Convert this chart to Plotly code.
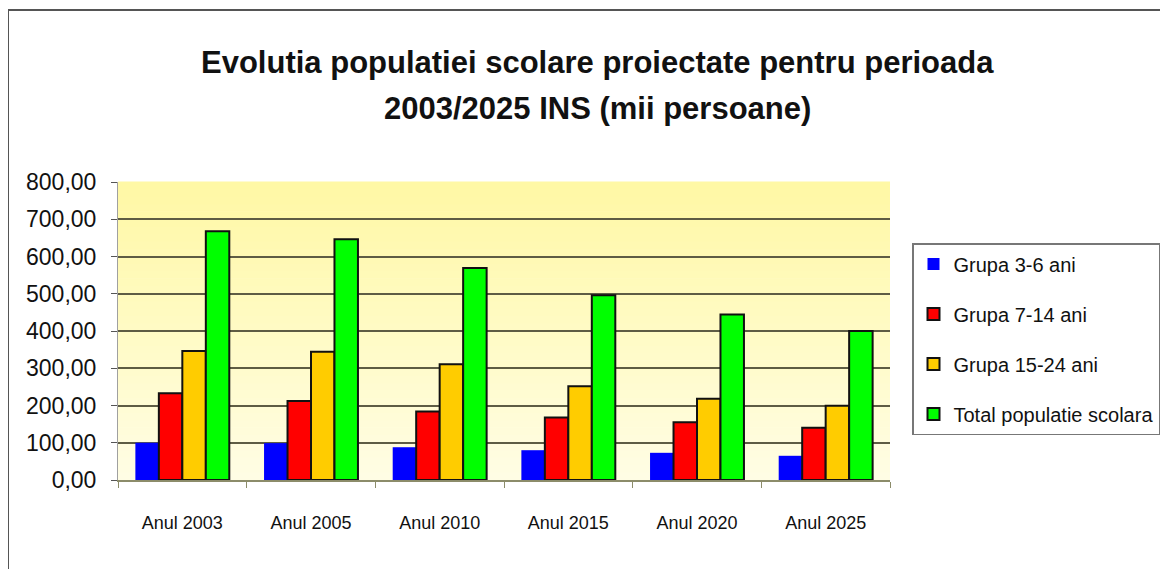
import plotly.graph_objects as go

# data (mii persoane)
categories = ["Anul 2003", "Anul 2005", "Anul 2010", "Anul 2015", "Anul 2020", "Anul 2025"]
series_names = ["Grupa 3-6 ani", "Grupa 7-14 ani", "Grupa 15-24 ani", "Total populatie scolara"]
grupa_3_6 = [100, 99, 88, 80, 73, 65]
grupa_7_14 = [233, 212, 184, 168, 155, 140]
grupa_15_24 = [346, 344, 311, 252, 218, 199]
total_pop = [668, 646, 569, 496, 444, 400]
y_ticks = [0, 100, 200, 300, 400, 500, 600, 700, 800]

title_lines = ["Evolutia populatiei scolare proiectate pentru perioada",
               "2003/2025 INS (mii persoane)"]

colours = ["#0000FF", "#FF0000", "#FFCC00", "#00FF00"]
outline = [0, 2, 2, 2]
FONT = "Liberation Sans, Arial, sans-serif"

# the page body adds an 8px margin, so work in figure pixels = screen - 8
OFF = 8
W, H = 1168 - OFF, 569 - OFF
L, T = 118 - OFF, 182 - OFF
R = W - (890 - OFF)
B = H - (480 - OFF)


def px_to_paper_x(px):
    # px is a screen pixel of the reference
    return (px - OFF - L) / (W - L - R)


def px_to_paper_y(py):
    return (H - B - (py - OFF)) / (H - T - B)


fig = go.Figure()
for name, vals, col, lw in zip(series_names,
                               [grupa_3_6, grupa_7_14, grupa_15_24, total_pop],
                               colours, outline):
    fig.add_trace(go.Bar(
        x=categories, y=vals, name=name, legendgroup=name,
        marker=dict(color=col, line=dict(color="#111111", width=lw)),
        hoverinfo="x+y+name"
    ))

# yellow gradient behind the plot area
shapes = []
n_bands = 40
top_rgb = (255, 248, 165)
bot_rgb = (255, 253, 228)
for i in range(n_bands):
    f = i / (n_bands - 1)
    rgb = [round(bot_rgb[k] + (top_rgb[k] - bot_rgb[k]) * f) for k in range(3)]
    shapes.append(dict(
        type="rect", xref="x domain", yref="y domain",
        x0=0, x1=1, y0=i / n_bands, y1=(i + 1) / n_bands + 0.002,
        fillcolor="rgb(%d,%d,%d)" % tuple(rgb), line=dict(width=0), layer="below"
    ))

# outer chart frame (runs off the right and bottom edges)
shapes.append(dict(
    type="rect", xref="paper", yref="paper",
    x0=px_to_paper_x(8), x1=px_to_paper_x(1190),
    y0=px_to_paper_y(600), y1=px_to_paper_y(10),
    line=dict(color="#555555", width=2), fillcolor="rgba(0,0,0,0)", layer="above"
))

annotations = []
for text, py in zip(title_lines, [63, 108]):
    annotations.append(dict(
        text="<b>%s</b>" % text, xref="paper", yref="paper",
        x=px_to_paper_x(597), y=px_to_paper_y(py),
        xanchor="center", yanchor="middle", showarrow=False,
        font=dict(family=FONT, size=31, color="#111111")
    ))

fig.update_layout(
    width=W, height=H,
    margin=dict(l=L, r=R, t=T, b=B, autoexpand=False),
    paper_bgcolor="white",
    plot_bgcolor="rgba(0,0,0,0)",
    barmode="group",
    bargap=0.27,
    bargroupgap=0,
    separators=", ",
    shapes=shapes,
    annotations=annotations,
    font=dict(family=FONT, color="#111111"),
    legend=dict(
        x=px_to_paper_x(912), y=px_to_paper_y(243),
        xanchor="left", yanchor="top",
        bordercolor="#777777", borderwidth=1.5, bgcolor="white",
        font=dict(family=FONT, size=20, color="#111111"),
        traceorder="grouped", tracegroupgap=21,
        itemclick=False
    ),
    xaxis=dict(
        showgrid=False, showline=True, linecolor="#8c8c6a", linewidth=1.5,
        ticks="outside", tickson="boundaries", ticklen=6, tickcolor="#8c8c6a",
        tickfont=dict(family=FONT, size=18, color="#111111"),
        ticklabelstandoff=26
    ),
    yaxis=dict(
        range=[0, 800], tickvals=y_ticks, tickformat=".2f",
        showgrid=True, gridcolor="#5e5c44", gridwidth=1.5,
        zeroline=False, showline=True, linecolor="#a0a0a0", linewidth=1,
        ticks="outside", ticklen=6, tickcolor="#555555",
        tickfont=dict(family=FONT, size=23, color="#111111"),
        ticklabelstandoff=10
    ),
)

fig.write_html("out.html")
